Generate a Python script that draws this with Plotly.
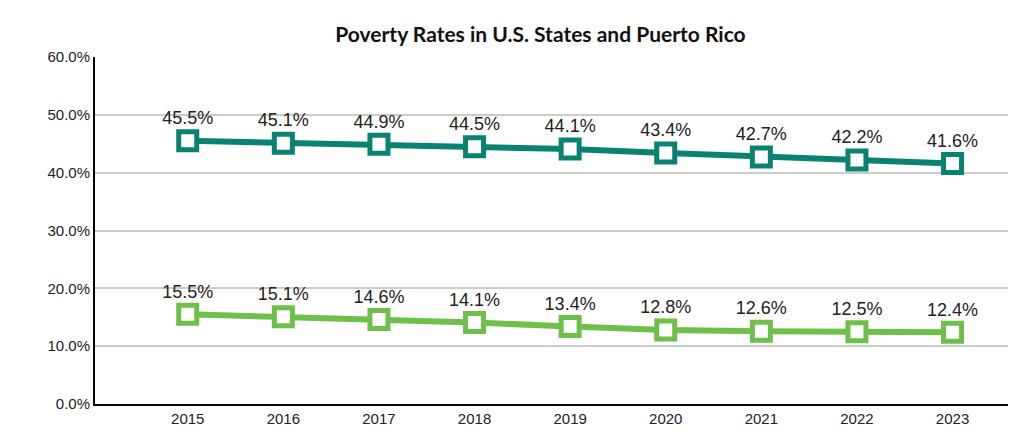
import plotly.graph_objects as go

years = ["2015","2016","2017","2018","2019","2020","2021","2022","2023"]
pr = [45.5,45.1,44.9,44.5,44.1,43.4,42.7,42.2,41.6]
us = [15.5,15.1,14.6,14.1,13.4,12.8,12.6,12.5,12.4]

fig = go.Figure()
for vals, col, name in [(pr, "#0a8272", "Puerto Rico"), (us, "#6fbf4b", "U.S. States")]:
    fig.add_trace(go.Scatter(
        x=years, y=vals, name=name, mode="lines+markers+text",
        line=dict(color=col, width=6),
        marker=dict(symbol="square", size=18, color="white", line=dict(color=col, width=5)),
        text=[f"{v:.1f}%" for v in vals], textposition="top center",
        textfont=dict(family="Liberation Sans, Arial", size=18, color="#222"),
        cliponaxis=False))

fig.update_layout(
    width=1024, height=437, paper_bgcolor="white", plot_bgcolor="white",
    showlegend=False,
    margin=dict(l=87, r=24, t=49, b=41),
    title=dict(text="<b>Poverty Rates in U.S. States and Puerto Rico</b>", x=0.52, xanchor="center",
               y=0.955, font=dict(family="Lato, Arial", size=21, color="#111")),
    xaxis=dict(showline=True, linecolor="black", linewidth=2, ticks="",
               tickfont=dict(family="Liberation Sans, Arial", size=15, color="#222"),
               range=[-0.97, 8.58]),
    yaxis=dict(range=[0, 60], dtick=10, ticksuffix="%", tickformat=".1f",
               showline=True, linecolor="black", linewidth=2,
               gridcolor="#cccccc", gridwidth=1.5, zeroline=False,
               tickfont=dict(family="Liberation Sans, Arial", size=15, color="#222")),
)
fig.write_html("out.html")
